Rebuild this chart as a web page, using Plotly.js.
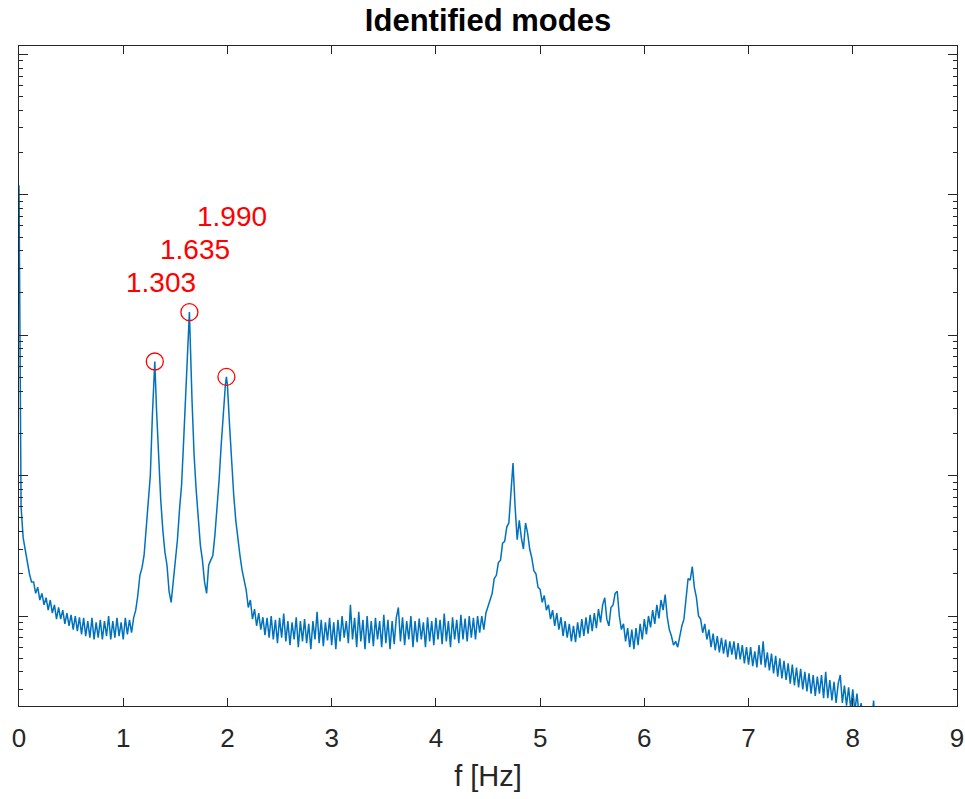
<!DOCTYPE html>
<html>
<head>
<meta charset="utf-8">
<script src="https://cdn.plot.ly/plotly-3.0.1.min.js"></script>
<style>
html,body{margin:0;padding:0;background:#fff;}
#chart{width:965px;height:799px;}
</style>
</head>
<body>
<div id="chart"></div>
<script>
// Spectrum (frequency in Hz, amplitude in arbitrary units, log scale)
const freq = [
  0,0.02,0.04,0.06,0.08,0.1,0.12,0.14,0.16,0.18,
  0.2,0.22,0.24,0.26,0.28,0.3,0.32,0.34,0.36,0.38,
  0.4,0.42,0.44,0.46,0.48,0.5,0.52,0.54,0.56,0.58,
  0.6,0.62,0.64,0.66,0.68,0.7,0.72,0.74,0.76,0.78,
  0.8,0.82,0.84,0.86,0.88,0.9,0.92,0.94,0.96,0.98,
  1.0,1.02,1.04,1.06,1.08,1.1,1.12,1.14,1.16,1.18,
  1.2,1.22,1.24,1.26,1.28,1.303,1.32,1.34,1.36,1.38,
  1.4,1.42,1.44,1.46,1.48,1.5,1.52,1.54,1.56,1.58,
  1.6,1.62,1.635,1.66,1.68,1.7,1.72,1.74,1.76,1.78,
  1.8,1.82,1.84,1.86,1.88,1.9,1.92,1.94,1.96,1.98,
  1.99,2.0,2.02,2.04,2.06,2.08,2.1,2.12,2.14,2.16,
  2.18,2.2,2.22,2.24,2.26,2.28,2.3,2.32,2.34,2.36,
  2.38,2.4,2.42,2.44,2.46,2.48,2.5,2.52,2.54,2.56,
  2.58,2.6,2.62,2.64,2.66,2.68,2.7,2.72,2.74,2.76,
  2.78,2.8,2.82,2.84,2.86,2.88,2.9,2.92,2.94,2.96,
  2.98,3.0,3.02,3.04,3.06,3.08,3.1,3.12,3.14,3.16,
  3.18,3.2,3.22,3.24,3.26,3.28,3.3,3.32,3.34,3.36,
  3.38,3.4,3.42,3.44,3.46,3.48,3.5,3.52,3.54,3.56,
  3.58,3.6,3.62,3.64,3.66,3.68,3.7,3.72,3.74,3.76,
  3.78,3.8,3.82,3.84,3.86,3.88,3.9,3.92,3.94,3.96,
  3.98,4.0,4.02,4.04,4.06,4.08,4.1,4.12,4.14,4.16,
  4.18,4.2,4.22,4.24,4.26,4.28,4.3,4.32,4.34,4.36,
  4.38,4.4,4.42,4.44,4.46,4.48,4.5,4.52,4.54,4.56,
  4.58,4.6,4.62,4.64,4.66,4.68,4.7,4.72,4.74,4.76,
  4.78,4.8,4.82,4.84,4.86,4.88,4.9,4.92,4.94,4.96,
  4.98,5.0,5.02,5.04,5.06,5.08,5.1,5.12,5.14,5.16,
  5.18,5.2,5.22,5.24,5.26,5.28,5.3,5.32,5.34,5.36,
  5.38,5.4,5.42,5.44,5.46,5.48,5.5,5.52,5.54,5.56,
  5.58,5.6,5.62,5.64,5.66,5.68,5.7,5.72,5.74,5.76,
  5.78,5.8,5.82,5.84,5.86,5.88,5.9,5.92,5.94,5.96,
  5.98,6.0,6.02,6.04,6.06,6.08,6.1,6.12,6.14,6.16,
  6.18,6.2,6.22,6.24,6.26,6.28,6.3,6.32,6.34,6.36,
  6.38,6.4,6.42,6.44,6.46,6.48,6.5,6.52,6.54,6.56,
  6.58,6.6,6.62,6.64,6.66,6.68,6.7,6.72,6.74,6.76,
  6.78,6.8,6.82,6.84,6.86,6.88,6.9,6.92,6.94,6.96,
  6.98,7.0,7.02,7.04,7.06,7.08,7.1,7.12,7.14,7.16,
  7.18,7.2,7.22,7.24,7.26,7.28,7.3,7.32,7.34,7.36,
  7.38,7.4,7.42,7.44,7.46,7.48,7.5,7.52,7.54,7.56,
  7.58,7.6,7.62,7.64,7.66,7.68,7.7,7.72,7.74,7.76,
  7.78,7.8,7.82,7.84,7.86,7.88,7.9,7.92,7.94,7.96,
  7.98,8.0,8.02,8.04,8.06,8.08,8.1,8.12,8.14,8.16,
  8.18,8.2,8.22
];
const amplitude = [
  1170,6.0,3.6,2.9,2.3,2.0,1.75,1.75,1.45,1.6,
  1.3,1.45,1.2,1.35,1.1,1.3,1.05,1.2,0.95,1.15,
  0.95,1.1,0.88,1.05,0.85,1.02,0.8,1.0,0.78,0.98,
  0.74,0.97,0.72,0.92,0.7,0.97,0.68,0.9,0.7,0.94,
  0.68,0.92,0.72,1.0,0.68,0.92,0.7,0.97,0.72,0.9,
  0.68,0.97,0.74,0.94,0.76,0.97,1.1,1.4,1.95,2.2,
  2.7,4.4,6.2,10,27,65,29,12.9,6.7,4.1,
  2.85,2.3,1.5,1.25,1.7,2.31,3.48,5.7,8.6,17.9,
  40.7,87,146,34.5,14,7.9,4.83,3.2,2.5,1.75,
  1.45,2.3,2.5,2.7,3.8,5.7,9.3,16.5,29,44,
  50.5,44,23,11.9,7.3,4.8,3.5,2.7,2.13,1.75,
  1.53,1.15,1.3,0.95,1.12,0.85,1.05,0.8,0.98,0.73,
  0.97,0.7,1.0,0.68,0.94,0.64,0.97,0.7,1.04,0.66,
  0.92,0.62,0.9,0.68,0.98,0.6,0.92,0.66,0.95,0.64,
  0.88,0.58,0.92,0.68,1.07,0.64,0.94,0.61,0.9,0.67,
  0.97,0.62,0.9,0.58,0.94,0.66,1.0,0.7,0.92,0.64,
  1.2,0.68,0.97,0.6,1.07,0.66,0.94,0.58,1.0,0.64,
  0.92,0.61,0.97,0.68,0.92,0.6,1.02,0.64,0.94,0.58,
  0.92,0.63,0.97,1.15,0.66,0.98,0.62,0.92,0.68,1.0,
  0.6,0.92,0.65,0.96,0.68,0.9,0.6,0.98,0.66,0.92,
  0.62,0.97,0.68,0.94,0.63,1.04,0.66,0.92,0.6,0.98,
  0.68,0.94,0.64,1.02,0.68,0.96,0.66,1.0,0.7,0.97,
  0.68,1.0,0.76,1.0,0.8,1.05,1.15,1.3,1.45,1.85,
  1.95,2.4,2.5,3.3,3.4,4.3,4.6,7.2,12.3,6.0,
  3.5,4.8,3.6,3.0,4.6,3.9,3.0,2.6,2.1,2.0,
  1.6,1.55,1.25,1.4,1.1,1.2,0.95,1.1,0.85,1.05,
  0.8,0.98,0.72,0.92,0.7,0.88,0.66,0.85,0.65,0.9,
  0.7,0.95,0.72,0.98,0.75,1.02,0.78,1.05,0.82,1.12,
  0.9,1.2,1.35,0.95,0.85,1.15,1.2,1.45,1.5,1.0,
  0.8,0.88,0.66,0.82,0.6,0.8,0.58,0.82,0.62,0.88,
  0.68,0.95,0.74,1.0,0.83,1.1,0.88,1.2,0.96,1.3,
  1.1,1.42,0.98,0.8,0.72,0.62,0.66,0.6,0.72,0.85,
  0.95,1.3,1.85,1.8,2.25,1.6,1.35,1.0,0.95,0.76,
  0.88,0.68,0.8,0.6,0.75,0.57,0.72,0.55,0.7,0.54,
  0.68,0.51,0.66,0.53,0.66,0.49,0.64,0.49,0.62,0.46,
  0.6,0.45,0.6,0.44,0.56,0.43,0.62,0.45,0.66,0.43,
  0.55,0.41,0.54,0.39,0.52,0.37,0.5,0.36,0.48,0.35,
  0.46,0.33,0.45,0.32,0.43,0.31,0.42,0.3,0.4,0.29,
  0.39,0.28,0.38,0.27,0.37,0.28,0.38,0.26,0.4,0.26,
  0.35,0.25,0.34,0.24,0.33,0.38,0.24,0.32,0.23,0.31,
  0.22,0.3,0.21,0.28,0.2,0.24,0.18,0.2,0.17,0.18,
  0.17,0.25,0.15
];

// Identified modes (peaks)
const modeFreq = [1.303, 1.635, 1.990];
const modeAmp = [65, 146, 50.5];
const modeLabels = ["1.303", "1.635", "1.990"];

const xTicks = [0,1,2,3,4,5,6,7,8,9];

const FONT = "Liberation Sans, Arial, Helvetica, sans-serif";
const AXC = "#262626";

const traces = [
  {
    x: freq, y: amplitude, type: "scatter", mode: "lines",
    line: {color: "#0072BD", width: 1.5},
    hoverinfo: "skip", showlegend: false
  },
  {
    x: modeFreq, y: modeAmp, type: "scatter", mode: "markers",
    marker: {symbol: "circle-open", size: 17, color: "#FF0000", line: {width: 1.3, color: "#FF0000"}},
    showlegend: false
  }
];

const labelPaperY = [0.6424, 0.6924, 0.7424];
const annotations = modeFreq.map((f, i) => ({
  x: f, xref: "x", y: labelPaperY[i], yref: "paper",
  text: modeLabels[i], showarrow: false,
  xanchor: "left", yanchor: "middle", xshift: -31,
  font: {family: FONT, size: 28, color: "#FF0000"}
}));

const layout = {
  width: 965, height: 799,
  margin: {l: 19, r: 8, t: 46, b: 93, pad: 0},
  paper_bgcolor: "#ffffff", plot_bgcolor: "#ffffff",
  font: {family: FONT, color: AXC},
  title: {
    text: "<b>Identified modes</b>",
    font: {family: FONT, size: 31, color: "#000000"},
    xref: "paper", x: 0.5, xanchor: "center",
    yref: "container", y: 1 - 20/799, yanchor: "middle"
  },
  xaxis: {
    range: [0, 9], tickvals: xTicks, ticktext: xTicks.map(String),
    ticks: "inside", ticklen: 8, tickwidth: 1, tickcolor: AXC,
    showline: true, linecolor: AXC, linewidth: 1, mirror: "ticks",
    showgrid: false, zeroline: false,
    tickfont: {family: FONT, size: 26, color: AXC},
    ticklabelstandoff: 9,
    title: {text: "f [Hz]", font: {family: FONT, size: 29, color: AXC}, standoff: 13}
  },
  yaxis: {
    type: "log", range: [-0.641, 4.06],
    dtick: 1, tick0: 0,
    ticks: "inside", ticklen: 9, tickwidth: 1, tickcolor: AXC,
    minor: {ticks: "inside", ticklen: 4, tickcolor: AXC, showgrid: false},
    showticklabels: false,
    showline: true, linecolor: AXC, linewidth: 1, mirror: "ticks",
    showgrid: false, zeroline: false
  },
  annotations: annotations,
  showlegend: false
};

Plotly.newPlot("chart", traces, layout, {displayModeBar: false, staticPlot: true});
</script>
</body>
</html>
